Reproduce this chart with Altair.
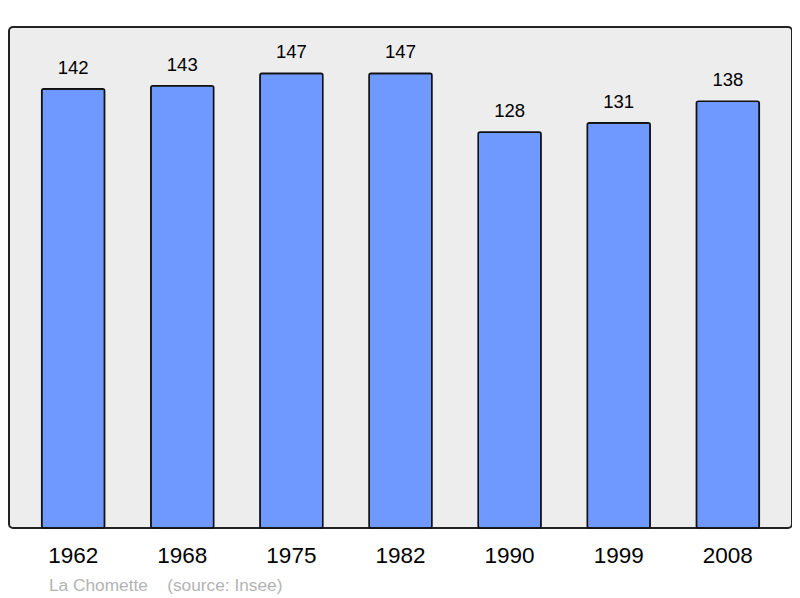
import altair as alt
import pandas as pd

years = ["1962", "1968", "1975", "1982", "1990", "1999", "2008"]
population = [142, 143, 147, 147, 128, 131, 138]

df = pd.DataFrame({"year": years, "pop": population})

base = alt.Chart(df)

x = alt.X("year:N", sort=years, title=None,
          scale=alt.Scale(paddingInner=0.424, paddingOuter=0.3),
          axis=alt.Axis(labelAngle=0, labelFontSize=22.5, labelColor="#000",
                        labelFont="Liberation Sans", domain=False, ticks=False,
                        labelPadding=16))
y = alt.Y("pop:Q", scale=alt.Scale(domain=[0, 162], nice=False, zero=True), axis=None)

bars = base.mark_bar(color="#7099ff", stroke="#111", strokeWidth=1.6,
                     cornerRadius=2).encode(x=x, y=y)
labels = base.mark_text(baseline="alphabetic", dy=-15, fontSize=18.5,
                        font="Liberation Sans", color="#000").encode(
    x=alt.X("year:N", sort=years), y="pop:Q", text="pop:Q")

credit = "La Chomette\u00a0\u00a0\u00a0\u00a0(source: Insee)"

chart = (bars + labels).properties(
    width=783, height=501,
    padding={"left": 1, "top": 19, "right": 0, "bottom": 8},
    title=alt.TitleParams(
        credit, orient="bottom", anchor="start",
        fontSize=17.3, font="Liberation Sans", fontWeight="normal",
        color="#b3b3b3", dx=40, offset=10),
).configure_view(
    fill="#ededed", stroke="#222", strokeWidth=2, cornerRadius=4
)

chart.save("out.html", embed_options={"renderer": "svg", "actions": False})
